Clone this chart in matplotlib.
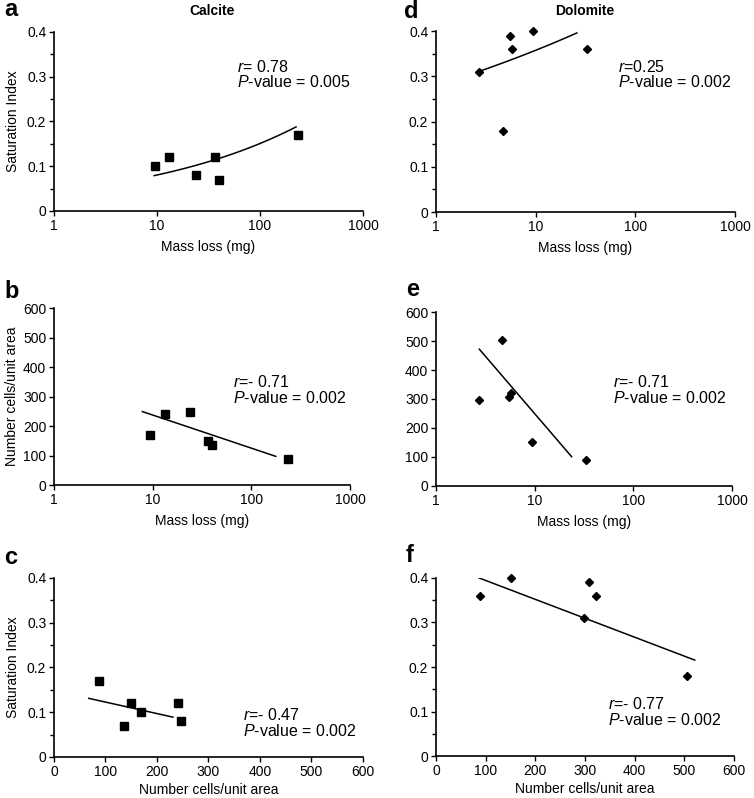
import numpy as np
import matplotlib
matplotlib.use("Agg")
import matplotlib.pyplot as plt
from matplotlib.ticker import FixedLocator, FixedFormatter, MultipleLocator, NullLocator

plt.rcParams['font.family'] = ['Liberation Sans', 'DejaVu Sans']
plt.rcParams['mathtext.fontset'] = 'custom'
plt.rcParams['mathtext.rm'] = 'Liberation Sans'
plt.rcParams['mathtext.it'] = 'Liberation Sans:italic'

# calcite samples
calc_mass = [9.5, 13.2, 24, 36.7, 40.3, 234]
calc_si = [0.10, 0.12, 0.08, 0.12, 0.07, 0.17]
calc_cells = [169, 241, 247, 150, 135, 88]

# dolomite samples
dolo_mass = [2.72, 4.7, 5.48, 5.82, 9.4, 33.1]
dolo_si = [0.31, 0.18, 0.39, 0.36, 0.40, 0.36]
dolo_cells = [298, 505, 308, 322, 151, 89]

# trend lines: (kind, a, b, xmin, xmax)
fit_a = ('power', 0.0429, 0.273, 9.4, 224)
fit_d = ('power', 0.2794, 0.107, 2.72, 25.9)
fit_b = ('loglin', 349.6, -112.3, 7.87, 177)
fit_e = ('loglin', 646, -396.4, 2.75, 23.7)
fit_c = ('lin', 0.1484, -0.000257, 67.5, 231)
fit_f = ('lin', 0.437, -0.000425, 87, 521)

stats_a = ('= 0.78', '0.005')
stats_d = ('=0.25', '0.002')
stats_b = ('=- 0.71', '0.002')
stats_e = ('=- 0.71', '0.002')
stats_c = ('=- 0.47', '0.002')
stats_f = ('=- 0.77', '0.002')

log_ticks = [1, 10, 100, 1000]
log_labels = ['1', '10', '100', '1000']

TICK = 10
LAB = 10
STAT = 11.5


def trend(ax, fit):
    kind, a, b, x0, x1 = fit
    if kind == 'lin':
        x = np.linspace(x0, x1, 50)
        y = a + b * x
    else:
        x = np.logspace(np.log10(x0), np.log10(x1), 80)
        if kind == 'power':
            y = a * x ** b
        else:
            y = a + b * np.log10(x)
    ax.plot(x, y, color='black', lw=1.1)


def style(ax, logx, ymax, ystep, yminor):
    for s in ['top', 'right']:
        ax.spines[s].set_visible(False)
    for s in ['left', 'bottom']:
        ax.spines[s].set_linewidth(1.2)
    ax.tick_params(direction='out', length=3.5, width=1, labelsize=TICK, pad=2)
    ax.tick_params(which='minor', direction='out', length=3, width=1)
    if logx:
        ax.set_xscale('log')
        ax.set_xlim(1, 1000)
        ax.xaxis.set_major_locator(FixedLocator(log_ticks))
        ax.xaxis.set_major_formatter(FixedFormatter(log_labels))
        ax.xaxis.set_minor_locator(NullLocator())
        ax.set_xlabel('Mass loss (mg)', fontsize=LAB, labelpad=5)
    else:
        ax.set_xlim(0, 600)
        ax.xaxis.set_major_locator(MultipleLocator(100))
        ax.set_xlabel('Number cells/unit area', fontsize=LAB, labelpad=3)
    ax.set_ylim(0, ymax)
    ax.yaxis.set_major_locator(MultipleLocator(ystep))
    if yminor:
        ax.yaxis.set_minor_locator(MultipleLocator(yminor))
    if ystep < 1:
        ax.yaxis.set_major_formatter(plt.FuncFormatter(lambda v, p: '0' if v == 0 else f'{v:.1f}'))


def stats(ax, st, x, y1, y2):
    txt = r'$\it{r}$' + st[0] + '\n' + r'$\it{P}$-value = ' + st[1]
    ax.text(x, (y1 + y2) / 2, txt, transform=ax.transAxes, fontsize=STAT,
            va='center', ha='left', linespacing=0.95)


fig = plt.figure(figsize=(7.54, 7.98), dpi=100)

ax_a = fig.add_axes([0.0716, 0.7356, 0.4098, 0.2243])
ax_d = fig.add_axes([0.5782, 0.7343, 0.3966, 0.2268])
ax_b = fig.add_axes([0.0716, 0.3922, 0.3926, 0.2218])
ax_e = fig.add_axes([0.5782, 0.3910, 0.3926, 0.2180])
ax_c = fig.add_axes([0.0716, 0.0514, 0.4098, 0.2243])
ax_f = fig.add_axes([0.5782, 0.0526, 0.3952, 0.2231])

sq = dict(marker='s', ms=5.5, color='black', ls='none', clip_on=False)
dm = dict(marker='D', ms=4.2, color='black', ls='none', clip_on=False)

ax_a.plot(calc_mass, calc_si, **sq)
trend(ax_a, fit_a)
style(ax_a, True, 0.4, 0.1, 0.05)
ax_a.set_ylabel('Saturation Index', fontsize=LAB, labelpad=5)
stats(ax_a, stats_a, 0.592, 0.80, 0.722)

ax_d.plot(dolo_mass, dolo_si, **dm)
trend(ax_d, fit_d)
style(ax_d, True, 0.4, 0.1, 0.05)
stats(ax_d, stats_d, 0.609, 0.80, 0.722)

ax_b.plot(calc_mass, calc_cells, **sq)
trend(ax_b, fit_b)
style(ax_b, True, 600, 100, None)
ax_b.set_ylabel('Number cells/unit area', fontsize=LAB, labelpad=3)
stats(ax_b, stats_b, 0.605, 0.576, 0.497)

ax_e.plot(dolo_mass, dolo_cells, **dm)
trend(ax_e, fit_e)
style(ax_e, True, 600, 100, None)
stats(ax_e, stats_e, 0.598, 0.598, 0.506)

ax_c.plot(calc_cells, calc_si, **sq)
trend(ax_c, fit_c)
style(ax_c, False, 0.4, 0.1, 0.05)
ax_c.set_ylabel('Saturation Index', fontsize=LAB, labelpad=5)
stats(ax_c, stats_c, 0.612, 0.229, 0.151)

ax_f.plot(dolo_cells, dolo_si, **dm)
trend(ax_f, fit_f)
style(ax_f, False, 0.4, 0.1, 0.05)
stats(ax_f, stats_f, 0.577, 0.287, 0.208)

fig.text(212 / 754, 1 - 11 / 798, 'Calcite', fontsize=10, fontweight='bold', ha='center', va='center')
fig.text(585 / 754, 1 - 11 / 798, 'Dolomite', fontsize=10, fontweight='bold', ha='center', va='center')
for lab, x, y in [('a', 4, 10), ('d', 404, 11), ('b', 4, 292), ('e', 406, 290), ('c', 4, 557), ('f', 406, 555)]:
    fig.text(x / 754, 1 - y / 798, lab, fontsize=17, fontweight='bold', ha='left', va='center')

fig.savefig('out.png', dpi=100)
